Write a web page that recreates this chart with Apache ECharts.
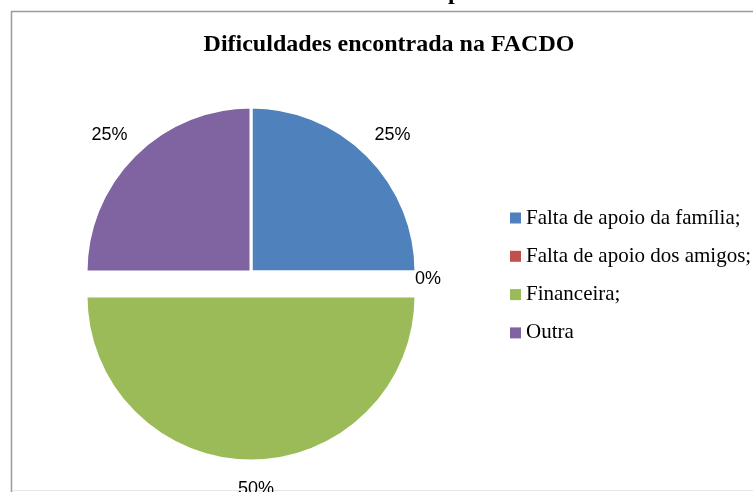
<!DOCTYPE html>
<html>
<head>
<meta charset="utf-8">
<script src="https://cdn.jsdelivr.net/npm/echarts@6/dist/echarts.min.js"></script>
<style>
  html, body { margin: 0; padding: 0; background: #fff; }
  #chart { width: 753px; height: 492px; }
</style>
</head>
<body>
<div id="chart"></div>
<script>
// dados do gráfico
var chartTitle = 'Dificuldades encontrada na FACDO'
var categories = ['Falta de apoio da família;', 'Falta de apoio dos amigos;', 'Financeira;', 'Outra']
var values = [25, 0, 50, 25]
var colors = ['#4F81BD', '#C0504D', '#9BBB59', '#8064A2']
var explodedIndex = 2 // fatia destacada (Financeira)

var chart = echarts.init(document.getElementById('chart'))

var pieData = categories.map(function (name, i) {
  var item = {
    name: name,
    value: values[i],
    itemStyle: { color: colors[i] },
    selected: i === explodedIndex
  }
  // rótulo do 0% fica colado na borda
  if (values[i] === 0) {
    item.labelLine = { show: false, length: 7, length2: 0 }
  }
  return item
})

chart.setOption({
  animation: false,
  backgroundColor: '#fff',
  title: {
    text: chartTitle,
    left: 384,
    top: 28,
    textAlign: 'center',
    textStyle: {
      fontFamily: 'Liberation Serif',
      fontWeight: 'bold',
      fontSize: 24,
      color: '#000'
    }
  },
  legend: {
    orient: 'vertical',
    left: 510,
    top: 207,
    padding: 0,
    icon: 'rect',
    itemWidth: 11,
    itemHeight: 11,
    itemGap: 16.3,
    selectedMode: false,
    itemStyle: { borderWidth: 0 },
    data: categories,
    textStyle: {
      fontFamily: 'Liberation Serif',
      fontSize: 21,
      lineHeight: 22,
      color: '#000'
    }
  },
  graphic: [
    {
      // moldura da área do gráfico
      type: 'rect',
      silent: true,
      shape: { x: 11.5, y: 11.5, width: 800, height: 600 },
      style: { fill: null, stroke: '#9a9a9a', lineWidth: 1.5 }
    },
    {
      type: 'line',
      silent: true,
      shape: { x1: 12, y1: 490.5, x2: 753, y2: 490.5 },
      style: { stroke: '#e6e6e6', lineWidth: 1 }
    },
    {
      // resto do título da página, cortado
      type: 'text',
      silent: true,
      left: 448,
      top: -19,
      style: {
        text: 'p',
        font: 'bold 24px "Liberation Serif"',
        fill: '#000'
      }
    }
  ],
  series: [
    {
      type: 'pie',
      center: [251, 272],
      radius: 165,
      startAngle: 90,
      clockwise: true,
      avoidLabelOverlap: false,
      selectedMode: 'multiple',
      selectedOffset: 24,
      emphasis: { disabled: true },
      select: { itemStyle: { borderColor: '#fff', borderWidth: 3 } },
      itemStyle: { borderColor: '#fff', borderWidth: 3 },
      label: {
        show: true,
        position: 'outside',
        formatter: function (p) { return Math.round(p.percent) + '%' },
        fontFamily: 'Liberation Sans',
        fontSize: 18,
        color: '#000'
      },
      labelLine: { show: false, length: 28, length2: 0 },
      labelLayout: function (params) {
        var zero = values[params.dataIndex] === 0
        return { align: 'center', verticalAlign: 'middle', dy: zero ? 7 : 0 }
      },
      data: pieData
    }
  ]
})
</script>
</body>
</html>
